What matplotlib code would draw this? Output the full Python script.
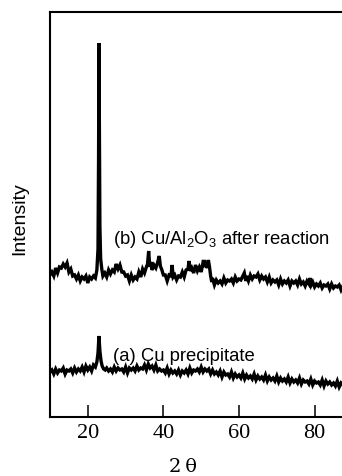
"""
XRD patterns: Cu precipitate vs Cu/Al2O3 after reaction
"""

import numpy as np
import matplotlib
matplotlib.use("Agg")
import matplotlib.pyplot as plt

# 2-theta grid and intensities (a.u.)
b_theta = np.array([
    10.0, 10.5, 11.0, 11.5, 12.0, 12.5, 13.0, 13.5, 14.0, 14.5, 15.0, 15.5, 16.0, 16.5,
    17.0, 17.5, 18.0, 18.5, 19.0, 19.5, 20.0, 20.5, 21.0, 21.5, 22.0, 22.4, 22.7, 22.85,
    22.95, 23.05, 23.2, 23.4, 23.7, 24.0, 24.5, 25.0, 25.5, 26.0, 26.5, 27.0, 27.5, 28.0,
    28.5, 29.0, 29.5, 30.0, 30.5, 31.0, 31.5, 32.0, 32.5, 33.0, 33.5, 34.0, 34.5, 35.0,
    35.5, 35.8, 36.1, 36.4, 36.7, 37.0, 37.5, 38.0, 38.5, 38.9, 39.2, 39.6, 40.0, 40.5,
    41.0, 41.5, 42.0, 42.3, 42.6, 43.0, 43.5, 44.0, 44.5, 45.0, 45.5, 46.0, 46.5, 46.8,
    47.1, 47.5, 48.0, 48.5, 49.0, 49.5, 50.0, 50.3, 50.6, 50.9, 51.2, 51.6, 51.9, 52.2,
    52.5, 52.8, 53.0, 53.5, 54.0, 54.5, 55.0, 55.5, 56.0, 56.5, 57.0, 57.5, 58.0, 58.5,
    59.0, 59.5, 60.0, 60.5, 61.0, 61.4, 61.8, 62.0, 62.5, 63.0, 63.5, 64.0, 64.5, 65.0,
    65.5, 66.0, 66.5, 67.0, 67.5, 68.0, 68.5, 69.0, 69.5, 70.0, 70.5, 71.0, 71.5, 72.0,
    72.5, 73.0, 73.5, 74.0, 74.5, 75.0, 75.5, 76.0, 76.5, 77.0, 77.5, 78.0, 78.5, 78.8,
    79.1, 79.5, 80.0, 80.5, 81.0, 81.5, 82.0, 82.5, 83.0, 83.5, 84.0, 84.5, 85.0, 85.5,
    86.0, 86.5, 87.0, 87.5, 88.0, 88.5, 89.0, 89.5, 90.0])
b_counts = np.array([
    142, 145, 141, 149, 144, 150, 149, 153, 150, 154, 145, 148, 141, 142,
    138, 142, 136, 140, 138, 141, 134, 140, 138, 141, 139, 147, 168, 260,
    374, 300, 190, 158, 148, 141, 144, 140, 147, 143, 147, 145, 153, 148,
    152, 145, 145, 141, 142, 136, 142, 137, 140, 138, 145, 140, 148, 144,
    150, 153, 166, 150, 155, 147, 152, 149, 155, 161, 151, 147, 142, 142,
    136, 142, 141, 152, 140, 142, 137, 141, 140, 145, 140, 147, 148, 156,
    146, 149, 144, 152, 146, 150, 145, 151, 157, 150, 153, 149, 157, 150,
    141, 135, 139, 132, 137, 134, 136, 133, 139, 134, 137, 136, 138, 134,
    140, 136, 138, 137, 141, 144, 136, 141, 136, 142, 138, 141, 140, 143,
    137, 141, 138, 140, 135, 140, 134, 137, 135, 137, 132, 138, 133, 136,
    134, 137, 131, 136, 134, 136, 132, 138, 133, 135, 131, 136, 133, 139,
    132, 135, 130, 133, 131, 134, 129, 132, 131, 133, 128, 133, 129, 131,
    130, 132, 127, 131, 129, 130, 128, 132, 129])

a_theta = np.array([
    10.0, 10.5, 11.0, 11.5, 12.0, 12.5, 13.0, 13.5, 14.0, 14.5, 15.0, 15.5, 16.0, 16.5,
    17.0, 17.5, 18.0, 18.5, 19.0, 19.5, 20.0, 20.5, 21.0, 21.5, 22.0, 22.4, 22.7, 22.95,
    23.2, 23.5, 23.8, 24.2, 24.6, 25.0, 25.5, 26.0, 26.5, 27.0, 27.5, 28.0, 28.5, 29.0,
    29.5, 30.0, 30.5, 31.0, 31.5, 32.0, 32.5, 33.0, 33.5, 34.0, 34.5, 35.0, 35.5, 36.0,
    36.5, 37.0, 37.5, 38.0, 38.5, 39.0, 39.5, 40.0, 40.5, 41.0, 41.5, 42.0, 42.5, 43.0,
    43.5, 44.0, 44.5, 45.0, 45.5, 46.0, 46.5, 47.0, 47.5, 48.0, 48.5, 49.0, 49.5, 50.0,
    50.5, 51.0, 51.5, 52.0, 52.5, 53.0, 53.5, 54.0, 54.5, 55.0, 55.5, 56.0, 56.5, 57.0,
    57.5, 58.0, 58.5, 59.0, 59.5, 60.0, 60.5, 61.0, 61.5, 62.0, 62.5, 63.0, 63.5, 64.0,
    64.5, 65.0, 65.5, 66.0, 66.5, 67.0, 67.5, 68.0, 68.5, 69.0, 69.5, 70.0, 70.5, 71.0,
    71.5, 72.0, 72.5, 73.0, 73.5, 74.0, 74.5, 75.0, 75.5, 76.0, 76.5, 77.0, 77.5, 78.0,
    78.5, 79.0, 79.5, 80.0, 80.5, 81.0, 81.5, 82.0, 82.5, 83.0, 83.5, 84.0, 84.5, 85.0,
    85.5, 86.0, 86.5, 87.0, 87.5, 88.0, 88.5, 89.0, 89.5, 90.0])
a_counts = np.array([
    45, 47, 43, 48, 44, 47, 46, 49, 43, 47, 46, 48, 44, 49,
    45, 48, 46, 50, 45, 51, 47, 50, 46, 52, 50, 55, 64, 81,
    66, 56, 51, 48, 47, 49, 46, 48, 45, 50, 46, 49, 47, 48,
    45, 50, 44, 49, 47, 49, 46, 51, 47, 49, 48, 52, 47, 53,
    49, 51, 47, 52, 46, 48, 46, 47, 44, 49, 43, 47, 44, 46,
    43, 47, 42, 46, 44, 47, 43, 49, 44, 47, 46, 48, 45, 50,
    45, 48, 46, 48, 43, 47, 43, 45, 42, 46, 40, 45, 42, 43,
    40, 45, 39, 43, 40, 42, 39, 44, 38, 42, 39, 41, 38, 43,
    37, 41, 38, 40, 37, 42, 36, 40, 37, 39, 36, 41, 35, 39,
    36, 38, 35, 40, 34, 38, 35, 37, 34, 39, 33, 37, 35, 36,
    33, 38, 32, 36, 34, 35, 32, 37, 31, 36, 33, 35, 32, 34,
    31, 36, 30, 34, 32, 34, 30, 35, 31, 33])

tick_vals = [20, 40, 60, 80]
label_a = "(a) Cu precipitate"
label_b = "(b) Cu/Al$_2$O$_3$ after reaction"

plt.rcParams['mathtext.fontset'] = 'custom'
plt.rcParams['mathtext.rm'] = 'Liberation Sans'
plt.rcParams['mathtext.it'] = 'Liberation Sans'

W, H = 342, 477
fig = plt.figure(figsize=(W / 100, H / 100), dpi=100)
# axes box in pixels: left 50, top 12.7, bottom 418; x=90 falls just past the right edge
ax = fig.add_axes([50 / W, (H - 418) / H, 302.4 / W, 405.3 / H])

ax.plot(a_theta, a_counts, color='black', lw=2.4, solid_joinstyle='miter')
ax.plot(b_theta, b_counts, color='black', lw=2.4, solid_joinstyle='miter')

ax.text(26.7, 174, label_b, fontsize=13.3, family='Liberation Sans', va='baseline')
ax.text(26.7, 57, label_a, fontsize=13.3, family='Liberation Sans', va='baseline')

ax.set_xlim(10, 90)
ax.set_ylim(0, 405.3)
ax.set_xticks(tick_vals)
ax.set_yticks([])
for s in ax.spines.values():
    s.set_linewidth(1.5)
ax.tick_params(axis='x', direction='in', length=9, width=1.1, pad=4,
               labelsize=16)
for t in ax.get_xticklabels():
    t.set_family('Liberation Serif')

ax.set_ylabel('Intensity', fontsize=14, family='Liberation Sans')
ax.yaxis.set_label_coords(-0.099, 0.493)
ax.yaxis.label.set_va('center')
ax.yaxis.label.set_ha('center')
ax.set_xlabel('2\u2009\u03b8', fontsize=14, family='DejaVu Serif')
ax.xaxis.set_label_coords(0.44, -0.121)
ax.xaxis.label.set_va('center')

fig.savefig('out.png', dpi=100)
